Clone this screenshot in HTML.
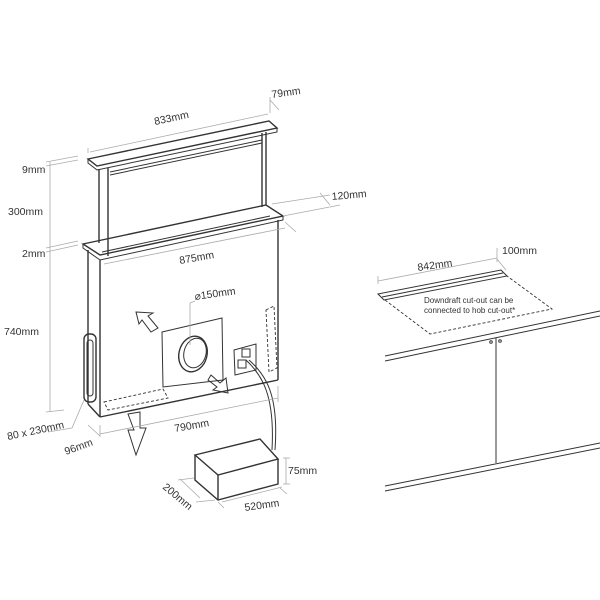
<!DOCTYPE html>
<html><head><style>
html,body{margin:0;padding:0;background:#fff}
svg{display:block}
text{font-family:"Liberation Sans",sans-serif;font-size:10.5px;fill:#333}
.l{stroke:#333;stroke-width:1;fill:none}
.t{stroke:#333;stroke-width:1.4;fill:none}
.d{stroke:#aaa;stroke-width:0.8;fill:none}
.da{stroke:#333;stroke-width:0.9;fill:none;stroke-dasharray:3 2}
</style></head><body>
<svg width="600" height="600" viewBox="0 0 600 600">
<!-- top bar -->
<polygon class="t" points="88,159 269,121 277,128 97,166" fill="#fff"/>
<polyline class="l" points="88,159 88,163 97,170 277,132 277,128"/>
<line class="l" x1="110" y1="172" x2="262" y2="140"/>
<line class="l" x1="110" y1="175" x2="262" y2="143"/>
<!-- posts -->
<line class="t" x1="99" y1="169" x2="99" y2="243"/>
<line class="t" x1="108" y1="168" x2="108" y2="256"/>
<line class="t" x1="262" y1="133" x2="262" y2="207"/>
<line class="t" x1="266" y1="132" x2="266" y2="205"/>
<!-- lower rim -->
<polygon class="t" points="83,244 266,205 283,216 100,255" fill="#fff"/>
<polyline class="l" points="83,244 83,248 100,260 283,220 283,216"/>
<line class="l" x1="102" y1="252" x2="270" y2="216"/>
<!-- body -->
<line class="t" x1="88" y1="250" x2="88" y2="404"/>
<line class="t" x1="100" y1="260" x2="100" y2="417"/>
<line class="t" x1="278" y1="220" x2="278" y2="380"/>
<line class="t" x1="100" y1="417" x2="278" y2="380"/>
<line class="t" x1="88" y1="404" x2="100" y2="417"/>
<!-- side grip -->
<rect class="t" x="84" y="334" width="12" height="68" rx="5"/>
<rect class="l" x="87" y="340" width="6" height="56" rx="3"/>
<!-- dashed areas -->
<polygon class="da" points="104,402 163,389 168,398 108,410"/>
<polygon class="da" points="266,310 274,306 277,368 269,372"/>
<!-- flange -->
<polygon class="l" points="162,332 222,318 223,380 163,387"/>
<ellipse class="t" cx="193" cy="354" rx="14" ry="18" transform="rotate(15 193 354)"/>
<ellipse class="l" cx="195" cy="353" rx="11" ry="15" transform="rotate(15 195 353)"/>
<!-- socket -->
<polygon class="l" points="234,350 256,344 256,370 235,375"/>
<rect class="l" x="242" y="349" width="8" height="8"/>
<rect class="l" x="238" y="360" width="8" height="8"/>
<!-- cable -->
<path class="l" d="M246,360 C262,375 275,395 272,450"/>
<path class="l" d="M249,360 C266,375 279,395 275,450"/>
<!-- arrows -->
<polygon class="l" points="136,312 153,313 148,316 158,328 151,332 142,320 139,324"/>
<polygon class="l" points="211,375 220,383 226,378 228,393 213,390 217,387 208,380"/>
<polygon class="l" points="128,414 140,412 140,428 146,428 136,455 128,430 134,430"/>
<!-- box -->
<polygon class="t" points="195,455 260,439 278,459 218,475" fill="#fff"/>
<polyline class="t" points="195,455 195,480 218,500 278,484 278,459"/>
<line class="t" x1="218" y1="475" x2="218" y2="500"/>
<!-- dims -->
<line class="d" x1="90" y1="152" x2="268" y2="114"/>
<line class="d" x1="88" y1="153" x2="88" y2="148"/>
<line class="d" x1="270" y1="113" x2="270" y2="97"/>
<line class="d" x1="270" y1="100" x2="279" y2="110"/>
<text x="155" y="125" transform="rotate(-12 155 125)">833mm</text>
<text x="272" y="98" transform="rotate(-8 272 98)">79mm</text>
<line class="d" x1="50" y1="162" x2="50" y2="412"/>
<line class="d" x1="46" y1="162" x2="78" y2="156"/>
<line class="d" x1="46" y1="166" x2="78" y2="160"/>
<line class="d" x1="46" y1="248" x2="78" y2="241"/>
<line class="d" x1="46" y1="252" x2="78" y2="245"/>
<line class="d" x1="46" y1="412" x2="64" y2="410"/>
<text x="22" y="173">9mm</text>
<text x="8" y="215">300mm</text>
<text x="22" y="257">2mm</text>
<text x="4" y="335">740mm</text>
<line class="d" x1="272" y1="204" x2="330" y2="195"/>
<line class="d" x1="283" y1="216" x2="340" y2="205"/>
<line class="d" x1="320" y1="193" x2="330" y2="205"/>
<text x="332" y="200" transform="rotate(-5 332 200)">120mm</text>
<line class="d" x1="104" y1="264" x2="285" y2="228"/>
<line class="d" x1="285" y1="222" x2="296" y2="232"/>
<text x="180" y="264" transform="rotate(-10 180 264)">875mm</text>
<line class="d" x1="190" y1="345" x2="190" y2="303"/>
<line class="d" x1="190" y1="303" x2="195" y2="301"/>
<text x="195" y="300" transform="rotate(-8 195 300)">⌀150mm</text>
<line class="d" x1="100" y1="425" x2="100" y2="437"/>
<line class="d" x1="100" y1="434" x2="278" y2="398"/>
<line class="d" x1="278" y1="386" x2="278" y2="402"/>
<line class="d" x1="88" y1="425" x2="100" y2="436"/>
<text x="175" y="432" transform="rotate(-10 175 432)">790mm</text>
<text x="66" y="455" transform="rotate(-20 66 455)">96mm</text>
<line class="d" x1="84" y1="400" x2="72" y2="428"/>
<line class="d" x1="72" y1="428" x2="48" y2="432"/>
<text x="8" y="440" transform="rotate(-12 8 440)">80 x 230mm</text>
<line class="d" x1="283" y1="458" x2="290" y2="458"/>
<line class="d" x1="286" y1="458" x2="286" y2="484"/>
<line class="d" x1="283" y1="484" x2="290" y2="484"/>
<text x="288" y="474">75mm</text>
<line class="d" x1="180" y1="479" x2="200" y2="498"/>
<line class="d" x1="178" y1="480" x2="194" y2="478"/>
<line class="d" x1="196" y1="502" x2="215" y2="500"/>
<text x="162" y="488" transform="rotate(40 162 488)">200mm</text>
<line class="d" x1="222" y1="502" x2="282" y2="487"/>
<line class="d" x1="218" y1="502" x2="224" y2="508"/>
<line class="d" x1="280" y1="488" x2="287" y2="494"/>
<text x="245" y="511" transform="rotate(-8 245 511)">520mm</text>
<!-- right: countertop -->
<line class="d" x1="378" y1="281" x2="497" y2="258"/>
<line class="d" x1="378" y1="284" x2="378" y2="276"/>
<line class="d" x1="497" y1="262" x2="497" y2="248"/>
<line class="d" x1="497" y1="259" x2="506" y2="270"/>
<text x="418" y="271" transform="rotate(-8 418 271)">842mm</text>
<text x="502" y="254">100mm</text>
<polygon class="l" points="378,294 501,270 507,276 384,300"/>
<line class="l" x1="382" y1="297" x2="503" y2="273"/>
<polyline class="da" points="385,300 430,334 552,309 507,276"/>
<text x="424" y="303" font-size="8" style="font-size:8px">Downdraft cut-out can be</text>
<text x="424" y="313" style="font-size:8px">connected to hob cut-out*</text>
<line class="l" x1="385" y1="356" x2="600" y2="311"/>
<line class="l" x1="385" y1="361" x2="600" y2="316"/>
<line class="l" x1="496" y1="338" x2="496" y2="463"/>
<circle class="l" cx="491" cy="342" r="1.3"/>
<circle class="l" cx="500" cy="341" r="1.3"/>
<line class="l" x1="385" y1="486" x2="600" y2="443"/>
<line class="l" x1="385" y1="491" x2="600" y2="448"/>
</svg>
</body></html>
